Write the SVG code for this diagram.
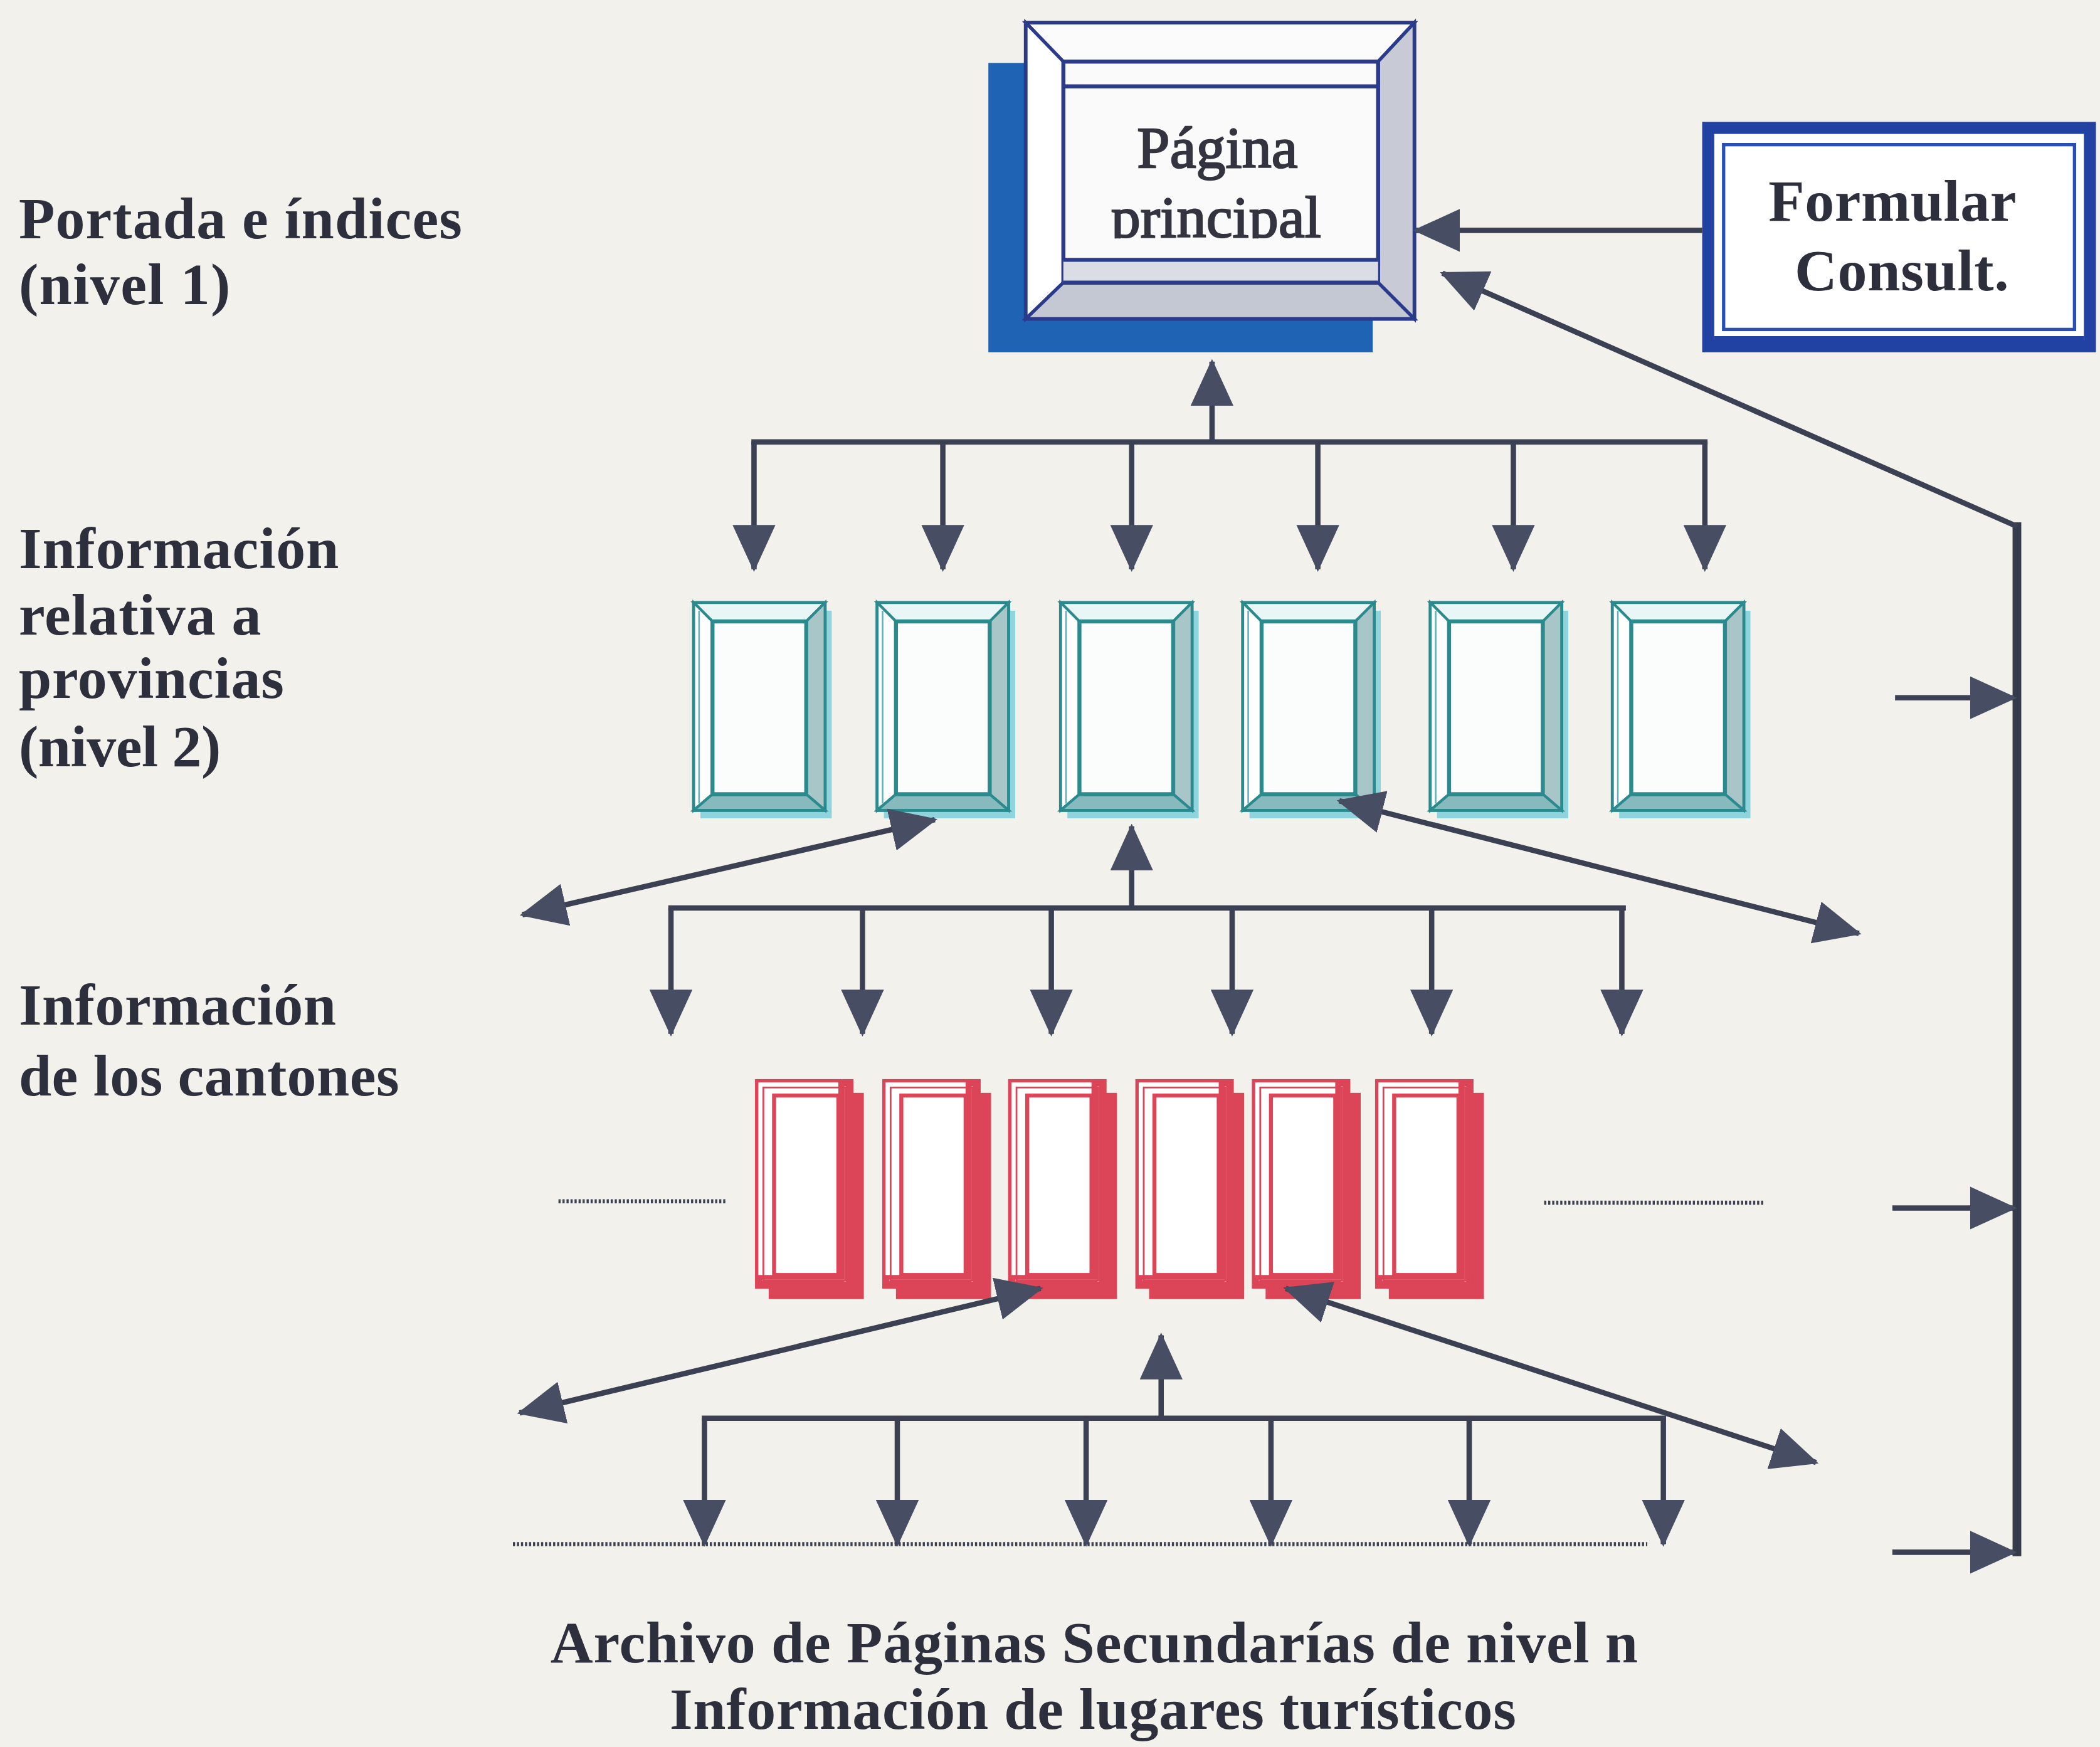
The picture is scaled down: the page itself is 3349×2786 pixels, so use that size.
<svg xmlns="http://www.w3.org/2000/svg" width="3349" height="2786" viewBox="0 0 3349 2786">
<style>
.lbl{font-family:"Liberation Serif","Times New Roman",serif;font-weight:bold;font-size:44px;fill:#2d2f3c}
.pg{font-family:"Liberation Serif","Times New Roman",serif;font-size:44px;fill:#33343f;stroke:#33343f;stroke-width:1.1}
.cn{fill:none;stroke:#3b4052;stroke-width:4}
.thick{fill:none;stroke:#363b4c;stroke-width:6.5}
.dot{fill:none;stroke:#3b4052;stroke-width:3;stroke-dasharray:1.6 1.4}
</style>
<defs>
<marker id="ah" viewBox="0 0 35 32" refX="33" refY="16" markerWidth="35" markerHeight="32" markerUnits="userSpaceOnUse" orient="auto-start-reverse">
<path d="M0,0 L35,16 L0,32 Z" fill="#474d63"/>
</marker>
<clipPath id="clipPrin"><rect x="794" y="46" width="235" height="132"/></clipPath>
<symbol id="teal" overflow="visible">
<rect x="5" y="6" width="98" height="155" fill="#8fd3dc"/>
<rect x="0" y="0" width="98" height="155" fill="#f7fcfc" stroke="#2a8a8e" stroke-width="2.5"/>
<polygon points="0,0 98,0 84,14 14,14" fill="#e8f6f6" stroke="#2a8a8e" stroke-width="2"/>
<polygon points="0,0 14,14 14,143 0,155" fill="#ffffff" stroke="#2a8a8e" stroke-width="2"/>
<polygon points="98,0 98,155 84,143 84,14" fill="#a8c6c8" stroke="#2a8a8e" stroke-width="2"/>
<polygon points="0,155 98,155 84,143 14,143" fill="#86babc" stroke="#2a8a8e" stroke-width="2"/>
<line x1="4" y1="6" x2="4" y2="150" stroke="#5fb3b6" stroke-width="1.2"/>
<rect x="14" y="14" width="70" height="129" fill="#fbfdfd" stroke="#2a8a8e" stroke-width="3"/>
</symbol>
<symbol id="red" overflow="visible">
<rect x="9" y="9" width="71" height="154" fill="#dc4458"/>
<rect x="0" y="0" width="71" height="154" fill="#ffffff" stroke="#dc4458" stroke-width="2.5"/>
<rect x="61" y="0" width="10" height="154" fill="#dc4458"/>
<rect x="0" y="145" width="71" height="9" fill="#dc4458"/>
<line x1="66" y1="4" x2="66" y2="150" stroke="#f4a6b0" stroke-width="1.2"/>
<line x1="4" y1="149" x2="66" y2="149" stroke="#f4a6b0" stroke-width="1.2"/>
<rect x="5" y="5" width="61" height="144" fill="none" stroke="#dc4458" stroke-width="1.3"/>
<rect x="13" y="11" width="48" height="134" fill="#ffffff" stroke="#dc4458" stroke-width="3"/>
</symbol>
</defs>
<rect x="0" y="0" width="3349" height="2786" fill="#f3f1ec"/>
<g transform="scale(2.1358)">

<g id="labels">
<text class="lbl" x="14" y="178" textLength="331">Portada e índices</text>
<text class="lbl" x="14" y="227" textLength="158">(nivel 1)</text>
<text class="lbl" x="14" y="424" textLength="239">Información</text>
<text class="lbl" x="14" y="474" textLength="181">relativa a</text>
<text class="lbl" x="14" y="521" textLength="198">provincias</text>
<text class="lbl" x="14" y="572" textLength="151">(nivel 2)</text>
<text class="lbl" x="14" y="765" textLength="237">Información</text>
<text class="lbl" x="14" y="818" textLength="284">de los cantones</text>
<text class="lbl" x="817" y="1241" text-anchor="middle" textLength="812">Archivo de Páginas Secundarías de nivel n</text>
<text class="lbl" x="816" y="1291" text-anchor="middle" textLength="632">Información de lugares turísticos</text>
</g>

<g id="pagina-principal">
<rect x="738" y="47" width="287" height="216" fill="#1e63b4"/>
<rect x="766" y="17" width="290" height="221" fill="#ffffff" stroke="#2b3a8a" stroke-width="3"/>
<polygon points="766,17 1056,17 1029,46 794,46" fill="#fbfbfb" stroke="#2b3a8a" stroke-width="2.5"/>
<polygon points="766,17 794,46 794,211 766,238" fill="#ffffff" stroke="#2b3a8a" stroke-width="2.5"/>
<polygon points="1056,17 1056,238 1029,211 1029,46" fill="#c8cbd5" stroke="#2b3a8a" stroke-width="2.5"/>
<polygon points="766,238 1056,238 1029,211 794,211" fill="#c4c8d3" stroke="#2b3a8a" stroke-width="2.5"/>
<rect x="794" y="46" width="235" height="165" fill="#fafafa" stroke="#2b3a8a" stroke-width="3"/>
<rect x="794" y="194" width="235" height="17" fill="#dadde5"/>
<line x1="794" y1="64.5" x2="1029" y2="64.5" stroke="#2b3a8a" stroke-width="3"/>
<line x1="794" y1="194" x2="1029" y2="194" stroke="#2b3a8a" stroke-width="3"/>
<line x1="794" y1="211" x2="1029" y2="211" stroke="#2b3a8a" stroke-width="3"/>
<text class="pg" x="909" y="125" text-anchor="middle" textLength="120">Página</text>
<text class="pg" x="908" y="177" text-anchor="middle" textLength="157" clip-path="url(#clipPrin)">principal</text>
</g>

<g id="formular-consult">
<rect x="1275.5" y="95.5" width="285" height="163" fill="#ffffff" stroke="#2142a3" stroke-width="9"/>
<rect x="1287" y="108" width="262" height="138" fill="none" stroke="#2a4fb0" stroke-width="2.5"/>
<line x1="1280" y1="254" x2="1556" y2="254" stroke="#2142a3" stroke-width="6"/>
<text class="lbl" x="1413" y="165" text-anchor="middle" textLength="185">Formular</text>
<text class="lbl" x="1420" y="217" text-anchor="middle" textLength="160">Consult.</text>
</g>

<g id="provincias">
<g id="prov-1"><use href="#teal" x="518" y="450"/></g>
<g id="prov-2"><use href="#teal" x="655" y="450"/></g>
<g id="prov-3"><use href="#teal" x="792" y="450"/></g>
<g id="prov-4"><use href="#teal" x="928" y="450"/></g>
<g id="prov-5"><use href="#teal" x="1068" y="450"/></g>
<g id="prov-6"><use href="#teal" x="1204" y="450"/></g>
</g>

<g id="cantones">
<g id="canton-1"><use href="#red" x="565" y="807"/></g>
<g id="canton-2"><use href="#red" x="660" y="807"/></g>
<g id="canton-3"><use href="#red" x="754" y="807"/></g>
<g id="canton-4"><use href="#red" x="849" y="807"/></g>
<g id="canton-5"><use href="#red" x="936" y="807"/></g>
<g id="canton-6"><use href="#red" x="1028" y="807"/></g>
</g>

<g id="connectors">
<line class="cn" x1="1271" y1="172" x2="1057" y2="172" marker-end="url(#ah)"/>
<line class="thick" x1="1506" y1="390" x2="1506" y2="1162"/>
<line class="cn" stroke-width="4.5" x1="1506" y1="393" x2="1077" y2="204" marker-end="url(#ah)"/>
<line class="cn" stroke-width="3" x1="1415" y1="521" x2="1504" y2="521" marker-end="url(#ah)"/>
<line class="cn" stroke-width="3" x1="1413" y1="902" x2="1504" y2="902" marker-end="url(#ah)"/>
<line class="cn" stroke-width="3" x1="1413" y1="1159" x2="1504" y2="1159" marker-end="url(#ah)"/>

<line class="cn" x1="905" y1="330" x2="905" y2="270" marker-end="url(#ah)"/>
<line class="cn" x1="561" y1="330" x2="1275" y2="330"/>
<line class="cn" x1="563" y1="330" x2="563" y2="425" marker-end="url(#ah)"/>
<line class="cn" x1="704" y1="330" x2="704" y2="425" marker-end="url(#ah)"/>
<line class="cn" x1="845" y1="330" x2="845" y2="425" marker-end="url(#ah)"/>
<line class="cn" x1="984" y1="330" x2="984" y2="425" marker-end="url(#ah)"/>
<line class="cn" x1="1130" y1="330" x2="1130" y2="425" marker-end="url(#ah)"/>
<line class="cn" x1="1273" y1="330" x2="1273" y2="425" marker-end="url(#ah)"/>

<line class="cn" x1="845" y1="678" x2="845" y2="617" marker-end="url(#ah)"/>
<line class="cn" x1="499" y1="678" x2="1214" y2="678"/>
<line class="cn" x1="501" y1="678" x2="501" y2="772" marker-end="url(#ah)"/>
<line class="cn" x1="644" y1="678" x2="644" y2="772" marker-end="url(#ah)"/>
<line class="cn" x1="785" y1="678" x2="785" y2="772" marker-end="url(#ah)"/>
<line class="cn" x1="920" y1="678" x2="920" y2="772" marker-end="url(#ah)"/>
<line class="cn" x1="1069" y1="678" x2="1069" y2="772" marker-end="url(#ah)"/>
<line class="cn" x1="1211" y1="678" x2="1211" y2="772" marker-end="url(#ah)"/>
<line class="cn" stroke-width="4.5" x1="698" y1="612" x2="390" y2="683" marker-start="url(#ah)" marker-end="url(#ah)"/>
<line class="cn" stroke-width="4.5" x1="1000" y1="598" x2="1388" y2="697" marker-start="url(#ah)" marker-end="url(#ah)"/>

<line class="cn" x1="867" y1="1059" x2="867" y2="997" marker-end="url(#ah)"/>
<line class="cn" x1="524" y1="1059" x2="1244" y2="1059"/>
<line class="cn" x1="526" y1="1059" x2="526" y2="1153" marker-end="url(#ah)"/>
<line class="cn" x1="670" y1="1059" x2="670" y2="1153" marker-end="url(#ah)"/>
<line class="cn" x1="811" y1="1059" x2="811" y2="1153" marker-end="url(#ah)"/>
<line class="cn" x1="949" y1="1059" x2="949" y2="1153" marker-end="url(#ah)"/>
<line class="cn" x1="1097" y1="1059" x2="1097" y2="1153" marker-end="url(#ah)"/>
<line class="cn" x1="1242" y1="1059" x2="1242" y2="1153" marker-end="url(#ah)"/>
<line class="cn" stroke-width="4.5" x1="777" y1="962" x2="388" y2="1055" marker-start="url(#ah)" marker-end="url(#ah)"/>
<line class="cn" stroke-width="4.5" x1="960" y1="962" x2="1356" y2="1092" marker-start="url(#ah)" marker-end="url(#ah)"/>

<line class="dot" x1="417" y1="897" x2="542" y2="897"/>
<line class="dot" x1="1153" y1="898" x2="1317" y2="898"/>
<line class="dot" x1="383" y1="1153" x2="1230" y2="1153"/>
</g>
</g>
</svg>
